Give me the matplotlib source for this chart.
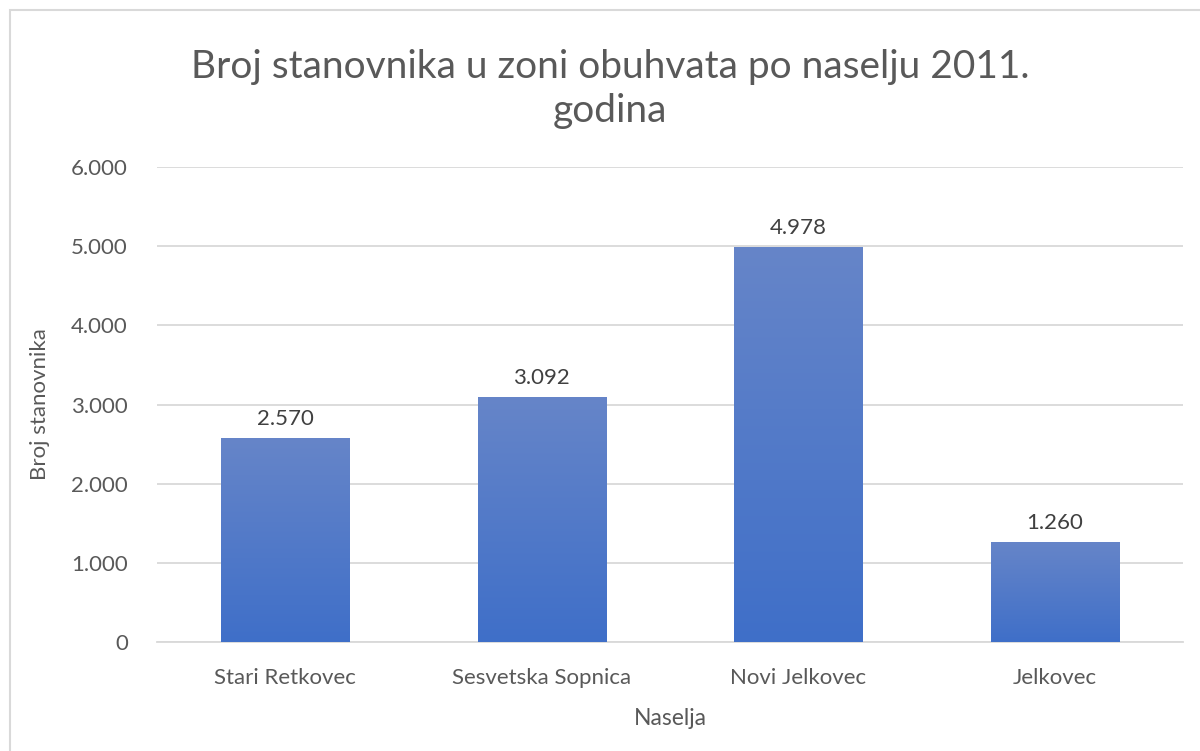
import numpy as np
import matplotlib
matplotlib.use('Agg')
import matplotlib.pyplot as plt
from matplotlib.colors import LinearSegmentedColormap
from matplotlib.patches import Rectangle

# ---- Data ----
categories = ['Stari Retkovec', 'Sesvetska Sopnica', 'Novi Jelkovec', 'Jelkovec']
population = [2570, 3092, 4978, 1260]
labels     = ['2.570', '3.092', '4.978', '1.260']
yticks     = [0, 1000, 2000, 3000, 4000, 5000, 6000]
ytick_lbl  = ['0', '1.000', '2.000', '3.000', '4.000', '5.000', '6.000']

plt.rcParams['font.family'] = ['Lato', 'DejaVu Sans']
TXT = '#595959'

fig = plt.figure(figsize=(12, 7.51), dpi=100)
fig.patches.append(Rectangle((10 / 1200, -0.01), 1.02, 1 - 10 / 751 + 0.01,
                             transform=fig.transFigure, fill=False,
                             edgecolor='#D9D9D9', linewidth=1.5))
ax = fig.add_axes([157 / 1200, 1 - 642 / 751, 1026 / 1200, 475 / 751])

# vertical gradient fill, like the Excel bars
cmap = LinearSegmentedColormap.from_list('bar', ['#3F6FC8', '#6685C9'])
grad = np.linspace(0, 1, 256).reshape(-1, 1)
width = 0.5
x = np.arange(len(categories))
for xi, v, lab in zip(x, population, labels):
    ax.imshow(grad, cmap=cmap, origin='lower', aspect='auto',
              extent=(xi - width / 2, xi + width / 2, 0, v), zorder=3)
    ax.text(xi, v + 120, lab, ha='center', va='bottom', fontsize=16, color='#404040')

ax.set_xlim(-0.5, len(categories) - 0.5)
ax.set_ylim(0, 6000)
ax.set_yticks(yticks)
ax.set_yticklabels(ytick_lbl)
ax.set_xticks(x)
ax.set_xticklabels(categories)
ax.tick_params(axis='both', length=0, labelsize=16, labelcolor=TXT)
ax.tick_params(axis='y', pad=21)
ax.tick_params(axis='x', pad=19)
ax.grid(axis='y', color='#D9D9D9', linewidth=1.3, zorder=0)
for s in ['top', 'right', 'left']:
    ax.spines[s].set_visible(False)
ax.spines['bottom'].set_color('#D9D9D9')
ax.spines['bottom'].set_linewidth(1.3)

ax.set_ylabel('Broj stanovnika', fontsize=16, color=TXT, labelpad=15)
ax.set_xlabel('Naselja', fontsize=16.5, color=TXT, labelpad=14)
fig.text(610 / 1200, 1 - 89 / 751, 'Broj stanovnika u zoni obuhvata po naselju 2011.\ngodina',
         ha='center', va='center', fontsize=28, color=TXT, linespacing=1.3)

fig.savefig('out.png', dpi=100)
